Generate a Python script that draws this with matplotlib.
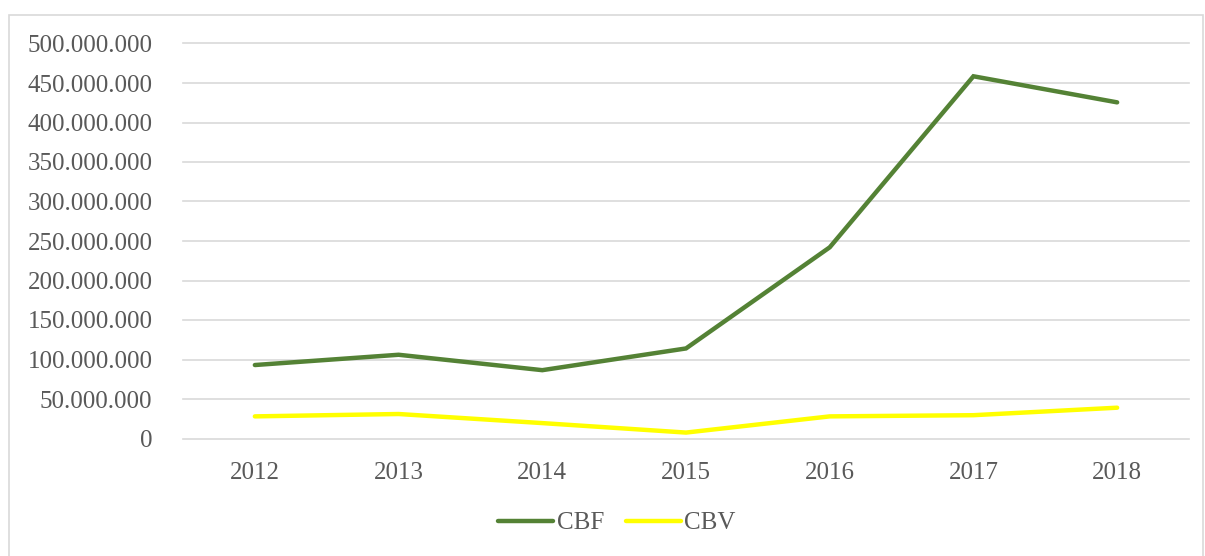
import matplotlib.pyplot as plt
from matplotlib.patches import Rectangle
from matplotlib.ticker import FuncFormatter, MultipleLocator

years = ["2012", "2013", "2014", "2015", "2016", "2017", "2018"]
cbf = [93_000_000, 106_000_000, 86_500_000, 114_000_000, 242_000_000, 458_500_000, 425_500_000]
cbv = [28_000_000, 31_000_000, 19_500_000, 7_500_000, 28_000_000, 29_500_000, 39_000_000]

plt.rcParams["font.family"] = ["Liberation Serif", "DejaVu Serif"]
text_col = "#595959"
grid_col = "#d9d9d9"

fig = plt.figure(figsize=(12.05, 5.56), dpi=100)
ax = fig.add_axes([183 / 1205, 117.5 / 556, 1006 / 1205, 395 / 556])

x = range(len(years))
ax.plot(x, cbf, color="#548235", lw=3.2, solid_capstyle="round", solid_joinstyle="miter", label="CBF")
ax.plot(x, cbv, color="#ffff00", lw=3.2, solid_capstyle="round", solid_joinstyle="miter", label="CBV")

ax.set_xlim(-0.5, len(years) - 0.5)
ax.set_ylim(0, 500_000_000)
ax.yaxis.set_major_locator(MultipleLocator(50_000_000))
ax.yaxis.set_major_formatter(FuncFormatter(lambda v, p: f"{int(v):,}".replace(",", ".")))
ax.set_xticks(list(x))
ax.set_xticklabels(years)
ax.grid(axis="y", color=grid_col, lw=1.2)
for gl in ax.get_ygridlines():
    gl.set_clip_on(False)
ax.set_axisbelow(True)
for s in ax.spines.values():
    s.set_visible(False)
ax.tick_params(axis="both", length=0, labelsize=18, labelcolor=text_col)
ax.tick_params(axis="y", pad=22)
ax.tick_params(axis="x", pad=17)

fig.legend(loc="center", bbox_to_anchor=(617 / 1205, 33 / 556), ncol=2, frameon=False,
           fontsize=18, labelcolor=text_col, handlelength=2.2, handletextpad=0.15,
           columnspacing=0.85)

fig.patches.append(Rectangle((9 / 1205, -0.01), 1194 / 1205, 0.983, transform=fig.transFigure,
                             fill=False, edgecolor=grid_col, lw=1.2))

fig.savefig("out.png", dpi=100)
